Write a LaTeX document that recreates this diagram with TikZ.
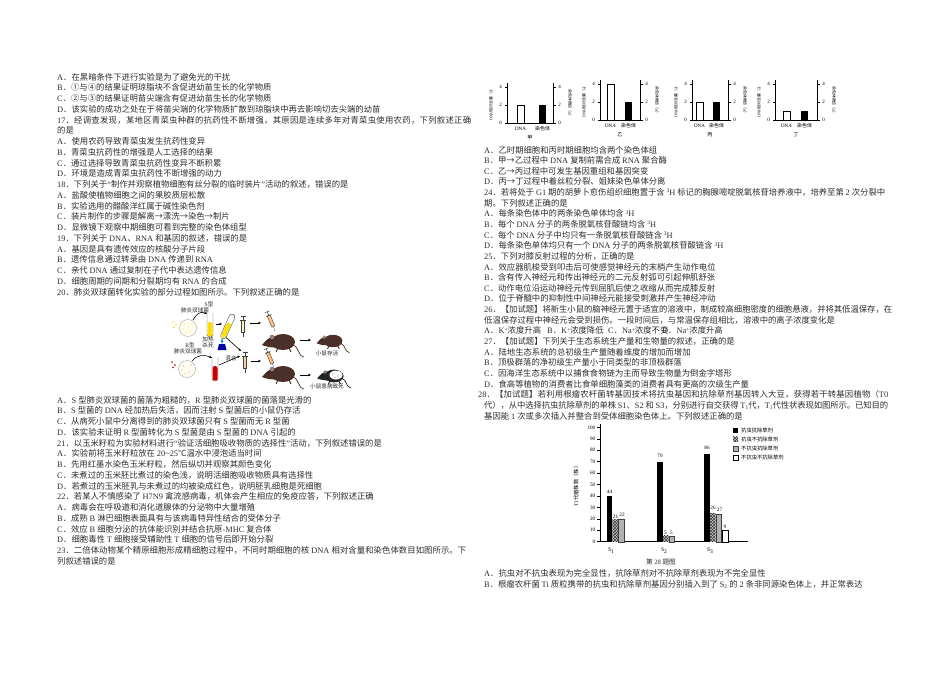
\documentclass[tikz,border=0pt]{standalone}
\usepackage{fontspec}
\setmainfont{Liberation Serif}
\newfontfamily\cjkfont{Noto Sans CJK SC}
\newfontfamily\latinfont{Liberation Serif}
\usetikzlibrary{patterns,arrows.meta}
\XeTeXinterchartokenstate=1
\newXeTeXintercharclass\CJKcls
\newcount\cjkcc
\def\setcjkrange#1#2{\cjkcc=#1\relax
  \loop
    \XeTeXcharclass\cjkcc=\CJKcls
    \ifnum\cjkcc<#2\relax
    \advance\cjkcc by 1\relax
  \repeat}
\setcjkrange{"4E00}{"9FFF}
\setcjkrange{"3000}{"303F}
\setcjkrange{"FF00}{"FFEF}
\setcjkrange{"2460}{"24FF}
\setcjkrange{"2190}{"21FF}
\setcjkrange{"2100}{"214F}
\XeTeXinterchartoks 0 \CJKcls = {\cjkfont}
\XeTeXinterchartoks 4095 \CJKcls = {\cjkfont}
\XeTeXinterchartoks \CJKcls 0 = {\latinfont}
\XeTeXinterchartoks 4095 0 = {\latinfont}
\XeTeXinterchartoks \CJKcls \CJKcls = {\hskip0pt plus .25em minus .04em\relax}
\newcommand\sps[1]{\raisebox{2.6pt}{\fontsize{5.5}{6}\selectfont #1}}
\newcommand\sbs[1]{\raisebox{-1.6pt}{\fontsize{5.5}{6}\selectfont #1}}
\definecolor{mousebr}{HTML}{4A3028}
\definecolor{mouseear}{HTML}{9C7F75}
\definecolor{mousebk}{HTML}{262626}
\tikzset{
  txt/.style={anchor=base west, inner sep=0pt, text=black!82, font=\fontsize{8.35}{10}\selectfont},
  lab/.style={inner sep=0pt, text=black!85, font=\fontsize{5.6}{6.5}\selectfont, align=center},
  tk/.style={inner sep=0pt, font=\fontsize{5}{5.5}\selectfont},
  tt/.style={inner sep=0pt, font=\fontsize{5.2}{5.5}\selectfont},
  axthree/.style={inner sep=0pt, font=\fontsize{3.9}{4.2}\selectfont},
  ax/.style={line width=0.45pt, draw=black},
  cax/.style={line width=0.5pt, draw=black},
  ctk/.style={inner sep=0pt, font=\fontsize{5.2}{6}\selectfont},
  arr/.style={-{Stealth[length=3pt,width=2.6pt]}, line width=0.6pt, black},
  bk/.style={fill=black},
  hb/.style={fill=gray!40, postaction={pattern=crosshatch, pattern color=black!80}},
  gb/.style={fill=gray!60, draw=black!75, line width=0.3pt},
  wb/.style={fill=white, draw=black, line width=0.4pt},
}
\newcommand\LT[3]{\node[txt] (#1) at (57,#2) {#3};}
\newcommand\RT[3]{\node[txt] (#1) at (484,#2) {#3};}
\newcommand\minichart[9]{%
\draw[ax] (#2,#4-40) -- (#2,#4) -- (#3,#4) -- (#3,#4-40);
\foreach \v in {0,2,4}{%
 \draw[ax] (#2,#4-9*\v) -- ++(-2.5,0);
 \draw[ax] (#3,#4-9*\v) -- ++(2.5,0);
 \node[tk] (#1l\v) at (#2-6.5,#4-9*\v) {\v};
 \node[tk] (#1r\v) at (#3+6.5,#4-9*\v) {\v};}
\draw[ax,fill=white] (#5,#4) rectangle ++(7,-9*#6);
\fill[black] (#7,#4) rectangle ++(7,-9*#8);
\node[tk] (#1d) at (#5+3.5,#4+6) {DNA};
\node[tk] (#1c) at (#7+3.5,#4+6) {染色体};
\node[tt] (#1t) at ({(#2+#3)/2},#4+15) {#9};
\node[axthree,rotate=90] (#1yl) at (#2-16,#4-19) {DNA相对含量（a）};
\node[axthree,rotate=-90] (#1yr) at (#3+17,#4-19) {染色体数目（n）};}
\newcommand\cbar[3]{\path[#1] (#2,541.7) rectangle ({#2+5.7},{541.7-1.143*#3});}
\newcommand\mousefig[5]{%
\begin{scope}[shift={(#1,#2)},scale=#3]
\draw[#4,line width=0.7pt] (10,3) .. controls (17,6) and (14,13) .. (21,15);
\fill[#4] (0,0) ellipse [x radius=12, y radius=8];
\fill[#4] (-8,-5) .. controls (-13,-6) and (-17,-2) .. (-21,3) .. controls (-16,5) and (-11,6) .. (-6,5) -- cycle;
\fill[#5] (-11,-5) circle [radius=2.3];
\draw[#4,line width=0.9pt] (-5,6) -- (-7,10) (6,6) -- (8,10);
\fill[black] (-15,-1) circle [radius=0.7];
\end{scope}}
\newcommand\syringe[4]{%
\begin{scope}[shift={(#1,#2)},rotate=#3]
\draw[gray!50!black,line width=0.4pt,fill=#4] (-1.6,-6) rectangle (1.6,6);
\draw[gray!50!black,line width=0.5pt] (0,-6) -- (0,-10) (-2.5,-10) -- (2.5,-10) (-2.8,-6) -- (2.8,-6);
\draw[gray!50!black,line width=0.3pt] (0,6) -- (0,11);
\end{scope}}
\begin{document}
\begin{tikzpicture}[x=1pt,y=-1pt]
\path[use as bounding box] (0,0) rectangle (950,672);
\fill[white] (0,0) rectangle (950,672);
% ---------------- left column, block 1
\LT{l1}{80}{A．在黑暗条件下进行实验是为了避免光的干扰}
\LT{l2}{90.75}{B．①与④的结果证明琼脂块不含促进幼苗生长的化学物质}
\LT{l3}{101.5}{C．②与③的结果证明苗尖端含有促进幼苗生长的化学物质}
\LT{l4}{112.25}{D．该实验的成功之处在于将苗尖端的化学物质扩散到琼脂块中再去影响切去尖端的幼苗}
\LT{l5}{123}{\hbox to 414pt{17．经调查发现，某地区青菜虫种群的抗药性不断增强，其原因是连续多年对青菜虫使用农药，下列叙述正确}}
\LT{l6}{133.75}{的是}
\LT{l7}{144.5}{A．使用农药导致青菜虫发生抗药性变异}
\LT{l8}{155.25}{B．青菜虫抗药性的增强是人工选择的结果}
\LT{l9}{166}{C．通过选择导致青菜虫抗药性变异不断积累}
\LT{l10}{176.75}{D．环境是造成青菜虫抗药性不断增强的动力}
\LT{l11}{187.5}{18．下列关于“制作并观察植物细胞有丝分裂的临时装片”活动的叙述，错误的是}
\LT{l12}{198.25}{A．盐酸使植物细胞之间的果胶质层松散}
\LT{l13}{209}{B．实验选用的醋酸洋红属于碱性染色剂}
\LT{l14}{219.75}{C．装片制作的步骤是解离→漂洗→染色→制片}
\LT{l15}{230.5}{D．显微镜下观察中期细胞可看到完整的染色体组型}
\LT{l16}{241.25}{19．下列关于 DNA、RNA 和基因的叙述，错误的是}
\LT{l17}{252}{A．基因是具有遗传效应的核酸分子片段}
\LT{l18}{262.75}{B．遗传信息通过转录由 DNA 传递到 RNA}
\LT{l19}{273.5}{C．亲代 DNA 通过复制在子代中表达遗传信息}
\LT{l20}{284.25}{D．细胞周期的间期和分裂期均有 RNA 的合成}
\LT{l21}{295}{20．肺炎双球菌转化实验的部分过程如图所示。下列叙述正确的是}
% ---------------- pneumococcus figure
\node[lab] (sl1) at (209,304) {S型};
\node[lab] (sl2) at (195,310) {肺炎双球菌};
\node[draw=gray!70,fill=yellow!6,circle,minimum size=17pt,inner sep=0pt] (sd) at (188,328) {};
\foreach \p in {(184,325),(190,331),(186,333),(192,324),(183,329),(189,327)} \fill[yellow!70!orange] \p circle [radius=0.6];
\foreach \p in {(173,322),(176,325),(174,327.5)} \fill[yellow!80!orange] \p circle [radius=0.9];
\draw[gray!60!black,line width=0.4pt,fill=white,rounded corners=2.5] (207,313) -- (207,337) -- (213,337) -- (213,313);
\fill[yellow!80!orange,rounded corners=2.2] (207.5,322) -- (207.5,336.5) -- (212.5,336.5) -- (212.5,322) -- cycle;
\coordinate (sdt) at (193,320);
\coordinate (stt) at (207,314);
\draw[arr] (sdt) .. controls (197,313) and (201,311) .. (stt);
\coordinate (a1s) at (215.5,324); \coordinate (a1e) at (222,324);
\draw[arr] (a1s) -- (a1e);
\draw[gray!60!black,line width=6.2pt,line cap=round] (232,317) -- (223.5,336);
\draw[white,line width=5.2pt,line cap=round] (232,317) -- (223.5,336);
\draw[yellow!80!orange,line width=4.6pt,line cap=round] (228.5,325) -- (223.7,335.5);
\fill[blue!65!black] (219,344) -- (225,344) -- (226.5,350) -- (217.5,350) -- cycle;
\fill[cyan!70!blue] (222,344) .. controls (220,342) and (221,340) .. (222,338.5) .. controls (223,340) and (224,342) .. (222,344);
\node[lab] (hk1) at (208,339.5) {加热};
\node[lab] (hk2) at (208,345.5) {杀死};
\syringe{243}{326}{0}{yellow!30}
\coordinate (a2s) at (250,323); \coordinate (a2e) at (261,323);
\draw[arr] (a2s) -- (a2e);
\syringe{271}{321}{22}{orange!50}
\mousefig{283}{342}{1}{mousebr}{mouseear}
\coordinate (a3s) at (300,340); \coordinate (a3e) at (311,340);
\draw[arr] (a3s) -- (a3e);
\mousefig{333}{341}{0.78}{mousebr}{mouseear}
\node[lab] (ml1) at (327,353) {小鼠存活};
\node[lab] (rl1) at (190,345.5) {R型};
\node[lab] (rl2) at (188,351.5) {肺炎双球菌};
\node[draw=gray!70,fill=yellow!6,circle,minimum size=17pt,inner sep=0pt] (rd) at (187,369) {};
\foreach \p in {(183,366),(189,372),(185,374),(191,365),(182,370)} \fill[red!60] \p circle [radius=0.6];
\foreach \p in {(172,362),(175,365),(173,367.5)} \fill[red!75!black] \p circle [radius=0.9];
\draw[gray!60!black,line width=0.4pt,fill=white,rounded corners=2.5] (212,357) -- (212,381) -- (218,381) -- (218,357);
\fill[red!80!black,rounded corners=2.2] (212.5,366) -- (212.5,380.5) -- (217.5,380.5) -- (217.5,366) -- cycle;
\coordinate (rdt) at (192,361);
\coordinate (rtt) at (212,358);
\draw[arr] (rdt) .. controls (197,355) and (204,354) .. (rtt);
\coordinate (m1s) at (226,337.5); \coordinate (m1e) at (241,351);
\draw[arr] (m1s) -- (m1e);
\coordinate (m2s) at (219,365); \coordinate (m2e) at (240,356);
\draw[arr] (m2s) -- (m2e);
\node[lab] (mix) at (231,358) {混合};
\syringe{245}{362}{0}{orange!35}
\coordinate (a4s) at (251,361); \coordinate (a4e) at (261,361);
\draw[arr] (a4s) -- (a4e);
\syringe{270}{358}{22}{orange!55}
\mousefig{283}{374}{1}{mousebr}{mouseear}
\coordinate (a5s) at (300,375); \coordinate (a5e) at (311,375);
\draw[arr] (a5s) -- (a5e);
\mousefig{334}{376}{0.8}{mousebk}{gray}
\fill[white] (336,375) ellipse [x radius=6.5, y radius=4.5];
\foreach \p in {(333,374),(338,376),(335,377.5)} \fill[red!70] \p circle [radius=0.6];
\node[lab] (ml2) at (327,386) {小鼠患病致死};
% ---------------- left column, block 2
\LT{l22}{403}{A．S 型肺炎双球菌的菌落为粗糙的，R 型肺炎双球菌的菌落是光滑的}
\LT{l23}{413.75}{B．S 型菌的 DNA 经加热后失活，因而注射 S 型菌后的小鼠仍存活}
\LT{l24}{424.5}{C．从病死小鼠中分离得到的肺炎双球菌只有 S 型菌而无 R 型菌}
\LT{l25}{435.25}{D．该实验未证明 R 型菌转化为 S 型菌是由 S 型菌的 DNA 引起的}
\LT{l26}{446}{21．以玉米籽粒为实验材料进行“验证活细胞吸收物质的选择性”活动，下列叙述错误的是}
\LT{l27}{456.75}{A．实验前将玉米籽粒放在 20\char`~25℃温水中浸泡适当时间}
\LT{l28}{467.5}{B．先用红墨水染色玉米籽粒，然后纵切并观察其颜色变化}
\LT{l29}{478.25}{C．未煮过的玉米胚比煮过的染色浅，说明活细胞吸收物质具有选择性}
\LT{l30}{489}{D．若煮过的玉米胚乳与未煮过的均被染成红色，说明胚乳细胞是死细胞}
\LT{l31}{499.75}{22．若某人不慎感染了 H7N9 禽流感病毒，机体会产生相应的免疫应答，下列叙述正确}
\LT{l32}{510.5}{A．病毒会在呼吸道和消化道腺体的分泌物中大量增殖}
\LT{l33}{521.25}{B．成熟 B 淋巴细胞表面具有与该病毒特异性结合的受体分子}
\LT{l34}{532}{C．效应 B 细胞分泌的抗体能识别并结合抗原-MHC 复合体}
\LT{l35}{542.75}{D．细胞毒性 T 细胞接受辅助性 T 细胞的信号后即开始分裂}
\LT{l36}{553.5}{\hbox to 409pt{23．二倍体动物某个精原细胞形成精细胞过程中，不同时期细胞的核 DNA 相对含量和染色体数目如图所示。下}}
\LT{l37}{564.25}{列叙述错误的是}
% ---------------- right column: small charts
\minichart{ja}{507}{553}{123}{517}{2}{539}{2}{甲}
\minichart{yi}{600}{640}{120}{607}{4}{625}{2}{乙}
\minichart{bi}{692}{728}{120}{696}{2}{713}{2}{丙}
\minichart{di}{775}{817}{120}{783}{1}{801}{1}{丁}
% ---------------- right column text
\RT{r1}{153}{A．乙时期细胞和丙时期细胞均含两个染色体组}
\RT{r2}{163.64}{B．甲→乙过程中 DNA 复制前需合成 RNA 聚合酶}
\RT{r3}{174.28}{C．乙→丙过程中可发生基因重组和基因突变}
\RT{r4}{184.92}{D．丙→丁过程中着丝粒分裂、姐妹染色单体分离}
\RT{r5}{195.56}{\hbox to 401pt{24．若将处于 G1 期的胡萝卜愈伤组织细胞置于含 \sps{3}H 标记的胸腺嘧啶脱氧核苷培养液中，培养至第 2 次分裂中}}
\RT{r6}{206.2}{期。下列叙述正确的是}
\RT{r7}{216.84}{A．每条染色体中的两条染色单体均含 \sps{3}H}
\RT{r8}{227.48}{B．每个 DNA 分子的两条脱氧核苷酸链均含 \sps{3}H}
\RT{r9}{238.12}{C．每个 DNA 分子中均只有一条脱氧核苷酸链含 \sps{3}H}
\RT{r10}{248.76}{D．每条染色单体均只有一个 DNA 分子的两条脱氧核苷酸链含 \sps{3}H}
\RT{r11}{259.4}{25．下列对膝反射过程的分析，正确的是}
\RT{r12}{270.04}{A．效应器肌梭受到叩击后可使感觉神经元的末梢产生动作电位}
\RT{r13}{280.68}{B．含有传入神经元和传出神经元的二元反射弧可引起伸肌舒张}
\RT{r14}{291.32}{C．动作电位沿运动神经元传到屈肌后使之收缩从而完成膝反射}
\RT{r15}{301.96}{D．位于脊髓中的抑制性中间神经元能接受刺激并产生神经冲动}
\RT{r16}{312.6}{\hbox to 408pt{26．【加试题】将新生小鼠的脑神经元置于适宜的溶液中，制成较高细胞密度的细胞悬液，并将其低温保存，在}}
\RT{r17}{323.24}{低温保存过程中神经元会受到损伤。一段时间后，与常温保存组相比，溶液中的离子浓度变化是}
\node[txt] (r18a) at (484,333.88) {A．K\sps{+}浓度升高};
\node[txt] (r18b) at (547,333.88) {B．K\sps{+}浓度降低};
\node[txt] (r18c) at (608,333.88) {C．Na\sps{+}浓度不变};
\node[txt] (r18d) at (662,333.88) {D．Na\sps{+}浓度升高};
\RT{r19}{344.52}{27．【加试题】下列关于生态系统生产量和生物量的叙述，正确的是}
\RT{r20}{355.16}{A．陆地生态系统的总初级生产量随着维度的增加而增加}
\RT{r21}{365.8}{B．顶极群落的净初级生产量小于同类型的非顶极群落}
\RT{r22}{376.44}{C．因海洋生态系统中以捕食食物链为主而导致生物量为倒金字塔形}
\RT{r23}{387.08}{D．食高等植物的消费者比食单细胞藻类的消费者具有更高的次级生产量}
\node[txt] (r24) at (478,397.72) {\hbox to 410pt{28．【加试题】若利用根瘤农杆菌转基因技术将抗虫基因和抗除草剂基因转入大豆，获得若干转基因植物（T0}};
\RT{r25}{408.36}{\hbox to 404pt{代），从中选择抗虫抗除草剂的单株 S1、S2 和 S3，分别进行自交获得 T\sbs{1}代，T\sbs{1}代性状表现如图所示。已知目的}}
\RT{r26}{419}{基因能 1 次或多次插入并整合到受体细胞染色体上。下列叙述正确的是}
% ---------------- chart 28
\draw[cax] (600,424) -- (600,541.7) -- (748,541.7);
\foreach \v in {0,10,...,100}{%
  \draw[cax] (600,{541.7-1.143*\v}) -- ++(-3,0);
  \node[ctk,anchor=east] (ct\v) at (595.5,{541.7-1.143*\v}) {\v};}
\cbar{bk}{606.7}{40}
\cbar{hb}{612.4}{19}
\cbar{gb}{618.1}{19.5}
\cbar{bk}{657.3}{70}
\cbar{hb}{663.0}{5}
\cbar{gb}{668.7}{5}
\cbar{bk}{704.3}{76.7}
\cbar{hb}{710.0}{25}
\cbar{gb}{715.7}{24}
\cbar{wb}{722.3}{10}
\node[ctk] (v1) at (609.5,492) {44};
\node[ctk] (v2) at (615.5,516.5) {21};
\node[ctk] (v3) at (622,515) {22};
\node[ctk] (v4) at (660,455.5) {70};
\node[ctk] (v5) at (665.5,533) {5};
\node[ctk] (v6) at (671.5,533) {5};
\node[ctk] (v7) at (707,447.5) {86};
\node[ctk] (v8) at (713,508) {26};
\node[ctk] (v9) at (719.5,510) {27};
\node[ctk] (v10) at (725,527) {9};
\node[ctk,font=\fontsize{5.6}{6}\selectfont] (xs1) at (611,550.5) {S\sbs{1}};
\node[ctk,font=\fontsize{5.6}{6}\selectfont] (xs2) at (664,550.5) {S\sbs{2}};
\node[ctk,font=\fontsize{5.6}{6}\selectfont] (xs3) at (710,550.5) {S\sbs{3}};
\node[ctk,rotate=90,font=\fontsize{5.3}{6}\selectfont] (ylab) at (576,485) {T1代植株数（株）};
\path[bk] (733,427.5) rectangle ++(5,5);
\path[hb] (733,436.5) rectangle ++(5,5);
\path[gb] (733,445.8) rectangle ++(5,5);
\path[wb] (733,454.8) rectangle ++(5,5);
\node[ctk,anchor=west,font=\fontsize{5.3}{6}\selectfont] (lg1) at (741,430) {抗虫抗除草剂};
\node[ctk,anchor=west,font=\fontsize{5.3}{6}\selectfont] (lg2) at (741,439) {抗虫不抗除草剂};
\node[ctk,anchor=west,font=\fontsize{5.3}{6}\selectfont] (lg3) at (741,448.3) {不抗虫抗除草剂};
\node[ctk,anchor=west,font=\fontsize{5.3}{6}\selectfont] (lg4) at (741,457.3) {不抗虫不抗除草剂};
\node[txt,anchor=base,font=\fontsize{6.6}{7}\selectfont] (cap) at (661,564.5) {第 28 题图};
\RT{r27}{576}{A．抗虫对不抗虫表现为完全显性，抗除草剂对不抗除草剂表现为不完全显性}
\RT{r28}{587}{B．根瘤农杆菌 Ti 质粒携带的抗虫和抗除草剂基因分别插入到了 S\sbs{2} 的 2 条非同源染色体上，并正常表达}
\end{tikzpicture}
\end{document}
